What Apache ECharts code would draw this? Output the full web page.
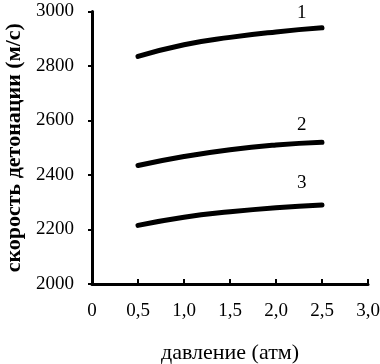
<!DOCTYPE html>
<html><head><meta charset="utf-8">
<script src="https://cdn.jsdelivr.net/npm/echarts@6/dist/echarts.min.js"></script>
<style>html,body{margin:0;padding:0;background:#fff}#c{width:380px;height:364px}</style>
</head><body><div id="c"></div>
<script>
const pressure = [0.5, 1.0, 1.5, 2.0, 2.5];
const curve1 = [2835, 2878, 2905, 2925, 2940];
const curve2 = [2435, 2468, 2493, 2510, 2520];
const curve3 = [2215, 2245, 2265, 2280, 2290];
const curveNames = ['1', '2', '3'];
const labelPos = [[2.28, 2995], [2.28, 2585], [2.28, 2372]];
const xTicks = ['0', '0,5', '1,0', '1,5', '2,0', '2,5', '3,0'];

const font = 'Liberation Serif';
const series = [curve1, curve2, curve3].map((vals, i) => ({
  type: 'line', name: curveNames[i], smooth: true, symbol: 'none',
  data: pressure.map((p, j) => [p, vals[j]]),
  lineStyle: {color: '#000', width: 5, cap: 'round'},
  markPoint: {
    symbol: 'circle', symbolSize: 0,
    data: [{coord: labelPos[i], value: curveNames[i]}],
    label: {show: true, color: '#000', fontFamily: font, fontSize: 19, formatter: curveNames[i]}
  }
}));

const chart = echarts.init(document.getElementById('c'));
chart.setOption({
  animation: false,
  grid: {left: 92, right: 12, top: 11.5, bottom: 80, containLabel: false, outerBoundsMode: 'none'},
  xAxis: {
    type: 'value', min: 0, max: 3, interval: 0.5,
    name: 'давление (атм)', nameLocation: 'middle', nameGap: 58,
    nameTextStyle: {color: '#000', fontFamily: font, fontSize: 22},
    axisLine: {lineStyle: {color: '#000', width: 3}},
    axisTick: {show: true, inside: true, length: 5, lineStyle: {color: '#000', width: 2}},
    axisLabel: {color: '#000', fontFamily: font, fontSize: 19, margin: 18,
      formatter: (v) => xTicks[Math.round(v / 0.5)]},
    splitLine: {show: false}
  },
  yAxis: {
    type: 'value', min: 2000, max: 3000, interval: 200,
    name: 'скорость детонации (м/с)', nameLocation: 'middle', nameGap: 67,
    nameTextStyle: {color: '#000', fontFamily: font, fontSize: 22, fontWeight: 'bold'},
    axisLine: {show: true, lineStyle: {color: '#000', width: 3}},
    axisTick: {show: true, length: 4, lineStyle: {color: '#000', width: 2}},
    axisLabel: {color: '#000', fontFamily: font, fontSize: 19, margin: 18,
      formatter: (v) => String(v)},
    splitLine: {show: false}
  },
  series: series
});
</script>
</body></html>
